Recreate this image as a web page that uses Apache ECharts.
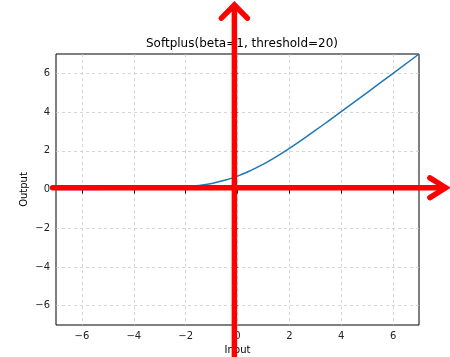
<!DOCTYPE html>
<html>
<head>
<meta charset="utf-8">
<script src="https://cdn.jsdelivr.net/npm/echarts@6/dist/echarts.min.js"></script>
<style>
  html, body { margin: 0; padding: 0; background: #fff; }
  #chart { width: 450px; height: 357px; }
</style>
</head>
<body>
<div id="chart"></div>
<script>
// values
const inputX = [-7, -6, -5, -4, -3, -2.5, -2, -1.5, -1, -0.5, 0, 0.5, 1, 1.5, 2, 2.5, 3, 3.5, 4, 5, 6, 7]
const outputY = [0.001, 0.003, 0.007, 0.018, 0.049, 0.079, 0.127, 0.201, 0.313, 0.474, 0.693, 0.974, 1.313, 1.701, 2.127, 2.579, 3.049, 3.53, 4.018, 5.007, 6.002, 7.0]
const xTicks = [-6, -4, -2, 0, 2, 4, 6]
const yTicks = [-6, -4, -2, 0, 2, 4, 6]

// red annotation arrows (data units)
const hArrowShaft = [[-7.13, 0.09], [8.0, 0.09]]
const hArrowHead = [[7.42, 0.6], [8.03, 0.09], [7.42, -0.42]]
const vArrowShaft = [[-0.12, -9.2], [-0.12, 9.45]]
const vArrowHead = [[-0.62, 8.85], [-0.12, 9.53], [0.38, 8.85]]

const fmt = v => String(v).replace('-', '\u2212')
const font = 'DejaVu Sans'

const chart = echarts.init(document.getElementById('chart'), null, { renderer: 'canvas' })

const option = {
  animation: false,
  title: {
    text: 'Softplus(beta=1, threshold=20)',
    left: 237,
    top: 33,
    textAlign: 'center',
    textStyle: { fontFamily: font, fontSize: 12, fontWeight: 'normal', color: '#000' }
  },
  grid: {
    left: 56, right: 31, top: 54, bottom: 32,
    outerBoundsMode: 'none',
    containLabel: false,
    show: true, borderColor: '#000', borderWidth: 1, backgroundColor: 'transparent'
  },
  xAxis: {
    type: 'value',
    min: -7,
    max: 7,
    name: 'Input',
    nameLocation: 'middle',
    nameGap: 20,
    nameMoveOverlap: false,
    nameTextStyle: { fontFamily: font, fontSize: 10, color: '#000' },
    axisLine: { show: false },
    axisTick: { show: true, inside: false, length: 4, lineStyle: { color: '#000' }, customValues: xTicks },
    axisLabel: { fontFamily: font, fontSize: 10, color: '#222', margin: 6, customValues: xTicks, formatter: fmt },
    splitLine: { show: true, lineStyle: { color: '#cccccc', type: [3, 3], width: 0.8 } }
  },
  yAxis: {
    type: 'value',
    min: -7,
    max: 7,
    name: 'Output',
    nameLocation: 'middle',
    nameGap: 27,
    nameMoveOverlap: false,
    nameTextStyle: { fontFamily: font, fontSize: 10, color: '#000' },
    axisLine: { show: false },
    axisTick: { show: true, inside: false, length: 4, lineStyle: { color: '#000' }, customValues: yTicks },
    axisLabel: { fontFamily: font, fontSize: 10, color: '#222', margin: 6, customValues: yTicks, formatter: fmt },
    splitLine: { show: true, lineStyle: { color: '#cccccc', type: [3, 3], width: 0.8 } }
  },
  series: [
    {
      type: 'line',
      data: inputX.map((x, i) => [x, outputY[i]]),
      smooth: true,
      symbol: 'none',
      lineStyle: { color: '#1f77b4', width: 1.5 },
      z: 5
    }
  ]
}

chart.setOption(option)

// arrows drawn on top, positioned through the axis scales
const toPx = pts => pts.map(p => chart.convertToPixel({ gridIndex: 0 }, p))
const arrowStyle = { stroke: '#ff0000', lineWidth: 5.5, lineCap: 'round', lineJoin: 'miter', fill: null }
chart.setOption({
  graphic: [hArrowShaft, hArrowHead, vArrowShaft, vArrowHead].map(pts => ({
    type: 'polyline',
    z: 100,
    silent: true,
    shape: { points: toPx(pts) },
    style: arrowStyle
  }))
})
</script>
</body>
</html>
